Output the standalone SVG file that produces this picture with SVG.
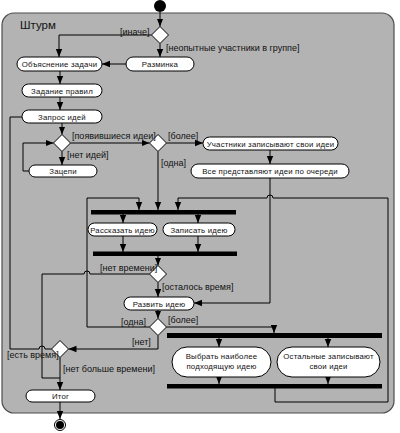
<svg xmlns="http://www.w3.org/2000/svg" width="400" height="433" viewBox="0 0 400 433">
<style>
.act{fill:#fff;stroke:#000;stroke-width:1}
.dec{fill:#fff;stroke:#000;stroke-width:1}
.bar{fill:#000}
.lbl{font-family:"Liberation Sans",Arial,sans-serif;font-size:7.8px;letter-spacing:0.2px;fill:#111;text-anchor:middle}
.grd{font-family:"Liberation Sans",Arial,sans-serif;font-size:9px;fill:#111}
.c{fill:none;stroke:#000;stroke-width:1}
.a{marker-end:url(#ah)}
</style>
<defs>
<marker id="ah" markerUnits="userSpaceOnUse" markerWidth="8" markerHeight="8" viewBox="0 0 8 8" refX="8" refY="4" orient="auto">
<path d="M0,0.8 L8,4 L0,7.2 Z" fill="#000"/>
</marker>
</defs>
<rect x="2" y="13" width="392" height="400" rx="12" fill="#b3b3b3" stroke="#4d4d4d" stroke-width="1.2"/>
<text x="20" y="29" font-family="Liberation Sans,Arial,sans-serif" font-size="11.5" fill="#111">Штурм</text>

<g id="connectors">
<path class="c a" d="M160,12 V26.5"/>
<path class="c a" d="M151.5,35 H59 V57"/>
<path class="c a" d="M160,43.5 V57"/>
<path class="c a" d="M126,64 H102"/>
<path class="c a" d="M60,71 V84"/>
<path class="c a" d="M60,97 V110"/>
<path class="c a" d="M62,123 V134.5"/>
<path class="c a" d="M62,151.5 V165"/>
<path class="c a" d="M29,171 H23 V143 H53.5"/>
<path class="c a" d="M70.5,143 H149.5"/>
<path class="c a" d="M166.5,143 H203"/>
<path class="c a" d="M270,150 V164"/>
<path class="c a" d="M158,151.5 V210"/>
<path class="c a" d="M270,178 V303 H194"/>
<path class="c a" d="M149.5,327 H87 V198 H139 V210"/>
<path class="c a" d="M275,388 V402 H388 V198 H273 A3,3 0 0 0 267,198 H178 V210"/>
<path class="c a" d="M123,214 V223"/>
<path class="c a" d="M198,214 V223"/>
<path class="c a" d="M123,236 V252"/>
<path class="c a" d="M198,236 V252"/>
<path class="c a" d="M158,256 V265.5"/>
<path class="c a" d="M158,282.5 V297"/>
<path class="c" d="M149.5,274 H90 A3,3 0 0 0 84,274 H42 V378 H60"/>
<path class="c a" d="M158,310 V318.5"/>
<path class="c a" d="M166.5,327 H274 V333"/>
<path class="c a" d="M219,338 V347"/>
<path class="c a" d="M328,338 V347"/>
<path class="c a" d="M219,377 V384"/>
<path class="c a" d="M328,377 V384"/>
<path class="c a" d="M158,335.5 V349 H68.5"/>
<path class="c" d="M51.5,349 H45 A3,3 0 0 0 39,349 H10 V117 H22"/>
<path class="c a" d="M60,357.5 V390"/>
<path class="c a" d="M60,402 V419"/>
</g>

<g id="start"><circle cx="160" cy="6" r="6" fill="#000"/></g>
<g id="d1"><polygon class="dec" points="160,26.5 168.5,35 160,43.5 151.5,35"/></g>
<g id="n_obyasnenie"><rect class="act" x="17" y="57" width="85" height="14" rx="7"/><text class="lbl" x="59.5" y="67">Объяснение задачи</text></g>
<g id="n_razminka"><rect class="act" x="126" y="57" width="68" height="14" rx="7"/><text class="lbl" x="160" y="67">Разминка</text></g>
<g id="n_zadanie"><rect class="act" x="22" y="84" width="80" height="13" rx="6.5"/><text class="lbl" x="62" y="93.5">Задание правил</text></g>
<g id="n_zapros"><rect class="act" x="22" y="110" width="80" height="13" rx="6.5"/><text class="lbl" x="62" y="119.5">Запрос идей</text></g>
<g id="d2"><polygon class="dec" points="62,134.5 70.5,143 62,151.5 53.5,143"/></g>
<g id="n_zacepi"><rect class="act" x="29" y="165" width="68" height="12" rx="6"/><text class="lbl" x="63" y="174">Зацепи</text></g>
<g id="d3"><polygon class="dec" points="158,134.5 166.5,143 158,151.5 149.5,143"/></g>
<g id="n_uchastniki"><rect class="act" x="203" y="137" width="135" height="13" rx="6.5"/><text class="lbl" x="270.5" y="146.5">Участники записывают свои идеи</text></g>
<g id="n_vse"><rect class="act" x="191" y="164" width="158" height="14" rx="7"/><text class="lbl" x="270" y="174">Все представляют идеи по очереди</text></g>
<g id="fork1"><rect class="bar" x="91" y="210" width="145" height="4.5"/></g>
<g id="n_rasskazat"><rect class="act" x="88" y="223" width="69" height="13" rx="6.5"/><text class="lbl" x="122.5" y="232.5">Рассказать идею</text></g>
<g id="n_zapisat"><rect class="act" x="163" y="223" width="72" height="13" rx="6.5"/><text class="lbl" x="199" y="232.5">Записать идею</text></g>
<g id="join2"><rect class="bar" x="93" y="251.5" width="144" height="4.5"/></g>
<g id="d4"><polygon class="dec" points="158,265.5 166.5,274 158,282.5 149.5,274"/></g>
<g id="n_razvit"><rect class="act" x="124" y="297" width="70" height="13" rx="6.5"/><text class="lbl" x="159" y="306.5">Развить идею</text></g>
<g id="d5"><polygon class="dec" points="158,318.5 166.5,327 158,335.5 149.5,327"/></g>
<g id="fork3"><rect class="bar" x="167" y="333" width="215" height="5"/></g>
<g id="n_vybrat"><rect class="act" x="172" y="347" width="99" height="30" rx="15"/><text class="lbl" x="221.5" y="359">Выбрать наиболее</text><text class="lbl" x="221.5" y="369">подходящую идею</text></g>
<g id="n_ostalnye"><rect class="act" x="277" y="347" width="103" height="30" rx="15"/><text class="lbl" x="328.5" y="359">Остальные записывают</text><text class="lbl" x="328.5" y="369">свои идеи</text></g>
<g id="join3"><rect class="bar" x="167" y="384" width="215" height="4.5"/></g>
<g id="d6"><polygon class="dec" points="60,340.5 68.5,349 60,357.5 51.5,349"/></g>
<g id="n_itog"><rect class="act" x="26" y="390" width="69" height="12" rx="6"/><text class="lbl" x="60.5" y="399">Итог</text></g>
<g id="final"><circle cx="60" cy="425" r="5.5" fill="#fff" stroke="#000" stroke-width="1"/><circle cx="60" cy="425" r="4" fill="#000"/></g>

<g id="guards">
<text class="grd" x="120" y="35">[иначе]</text>
<text class="grd" x="166" y="51">[неопытные участники в группе]</text>
<text class="grd" x="72" y="139">[появившиеся идеи]</text>
<text class="grd" x="168" y="139">[более]</text>
<text class="grd" x="67" y="158">[нет идей]</text>
<text class="grd" x="161" y="166">[одна]</text>
<text class="grd" x="100" y="271">[нет времени]</text>
<text class="grd" x="162" y="290">[осталось время]</text>
<text class="grd" x="121" y="325">[одна]</text>
<text class="grd" x="168" y="323">[более]</text>
<text class="grd" x="132" y="345">[нет]</text>
<text class="grd" x="7" y="358">[есть время]</text>
<text class="grd" x="63" y="372">[нет больше времени]</text>
</g>
</svg>
